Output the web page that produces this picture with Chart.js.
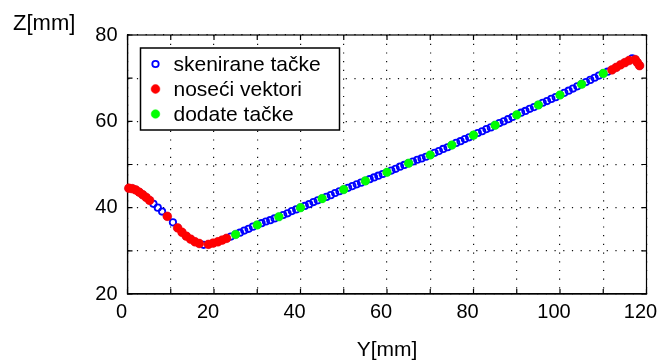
<!DOCTYPE html>
<html>
<head>
<meta charset="utf-8">
<script src="https://cdn.jsdelivr.net/npm/chart.js@4/dist/chart.umd.min.js"></script>
<style>
  html, body { margin: 0; padding: 0; background: #fff; }
  #wrap { width: 659px; height: 361px; }
</style>
</head>
<body>
<div id="wrap"><canvas id="profil" width="659" height="361"></canvas></div>
<script>
// ---- data ----
const scanY = [0.3, 1.1, 1.9, 2.7, 3.5, 4.3, 5.1, 6.0, 7.0, 8.0, 9.2, 10.5, 11.6, 12.6, 13.6, 14.6, 15.6, 16.6, 17.6, 18.7, 19.8, 20.9, 21.9, 22.9, 23.9,
  25, 26, 27, 28, 29, 30, 31, 32, 33, 34, 35, 36, 37, 38, 39, 40, 41, 42, 43, 44, 45, 46, 47, 48, 49, 50,
  51, 52, 53, 54, 55, 56, 57, 58, 59, 60, 61, 62, 63, 64, 65, 66, 67, 68, 69, 70, 71, 72, 73, 74, 75,
  76, 77, 78, 79, 80, 81, 82, 83, 84, 85, 86, 87, 88, 89, 90, 91, 92, 93, 94, 95, 96, 97, 98, 99, 100,
  101, 102, 103, 104, 105, 106, 107, 108, 109, 110, 111, 112, 113, 114, 115, 116, 116.7, 117.4, 117.9, 118.4];
const scanZ = [44.5, 44.4, 44.1, 43.6, 43.0, 42.4, 41.7, 40.9, 40.0, 39.1, 38.0, 36.6, 35.3, 34.3, 33.4, 32.7, 32.1, 31.7, 31.4, 31.5, 31.8, 32.1, 32.5, 32.9, 33.3,
  33.8, 34.2, 34.7, 35.1, 35.6, 36.0, 36.4, 36.8, 37.1, 37.5, 37.9, 38.3, 38.7, 39.2, 39.6, 40.0, 40.4, 40.8, 41.3, 41.7, 42.1, 42.5, 42.9, 43.4, 43.8, 44.2,
  44.6, 45.0, 45.4, 45.8, 46.2, 46.6, 47.0, 47.4, 47.8, 48.2, 48.6, 49.0, 49.5, 49.9, 50.3, 50.7, 51.1, 51.4, 51.8, 52.2, 52.7, 53.1, 53.6, 54.0, 54.5,
  55.0, 55.4, 55.9, 56.3, 56.8, 57.3, 57.7, 58.2, 58.6, 59.1, 59.6, 60.0, 60.5, 61.0, 61.5, 62.0, 62.4, 62.9, 63.3, 63.8, 64.3, 64.7, 65.2, 65.6, 66.1,
  66.6, 67.1, 67.6, 68.1, 68.6, 69.1, 69.6, 70.1, 70.6, 71.1, 71.5, 71.9, 72.5, 73.1, 73.6, 74.1, 74.6, 74.3, 73.6, 72.9];

const nosY = [0.3, 1.1, 1.9, 2.7, 3.5, 4.3, 5.1, 9.2, 11.6, 12.6, 13.6, 14.6, 15.6, 16.6, 18.7, 19.8, 20.9, 21.9, 22.9,
  112, 113, 114, 115, 116, 117.4, 117.9, 118.4];
const nosZ = [44.5, 44.4, 44.1, 43.6, 43.0, 42.4, 41.7, 38.0, 35.3, 34.3, 33.4, 32.7, 32.1, 31.7, 31.5, 31.8, 32.1, 32.5, 32.9,
  71.9, 72.5, 73.1, 73.6, 74.1, 74.3, 73.6, 72.9];

const dodY = [25, 30, 35, 40, 45, 50, 55, 60, 65, 70, 75, 80, 85, 90, 95, 100, 105, 110];
const dodZ = [33.8, 36.0, 37.9, 40.0, 42.1, 44.2, 46.2, 48.2, 50.3, 52.2, 54.5, 56.8, 59.1, 61.5, 63.8, 66.1, 68.6, 71.1];

const xTicks = [0, 20, 40, 60, 80, 100, 120];
const yTicks = [20, 40, 60, 80];

const FONT = "'Liberation Sans', Arial, sans-serif";
const pts = (xs, ys) => xs.map((x, i) => ({ x: x, y: ys[i] }));

// box round the plot + small inward ticks (matlab style)
const okvir = {
  id: "okvir",
  beforeDatasetsDraw(chart) {
    const { ctx, chartArea: a, scales } = chart;
    ctx.save();
    ctx.strokeStyle = "#000";
    ctx.lineWidth = 1.2;
    ctx.strokeRect(a.left, a.top, a.right - a.left, a.bottom - a.top);
    ctx.beginPath();
    scales.x.ticks.forEach(t => {
      const px = scales.x.getPixelForValue(t.value);
      ctx.moveTo(px, a.bottom); ctx.lineTo(px, a.bottom - 5);
      ctx.moveTo(px, a.top); ctx.lineTo(px, a.top + 5);
    });
    scales.y.ticks.forEach(t => {
      const py = scales.y.getPixelForValue(t.value);
      ctx.moveTo(a.left, py); ctx.lineTo(a.left + 5, py);
      ctx.moveTo(a.right, py); ctx.lineTo(a.right - 5, py);
    });
    ctx.stroke();
    ctx.restore();
  }
};

// legend inside the plot, top-left
const legenda = {
  id: "legenda",
  afterDraw(chart) {
    const { ctx, chartArea: a } = chart;
    const x0 = a.left + 13, y0 = a.top + 13, w = 199, h = 82;
    ctx.save();
    ctx.fillStyle = "#fff";
    ctx.fillRect(x0, y0, w, h);
    ctx.strokeStyle = "#000";
    ctx.lineWidth = 1.5;
    ctx.strokeRect(x0, y0, w, h);
    ctx.font = "21px " + FONT;
    ctx.textBaseline = "middle";
    chart.data.datasets.forEach((ds, i) => {
      const cy = y0 + 16 + i * 25;
      ctx.beginPath();
      ctx.arc(x0 + 15, cy, ds.pointRadius, 0, Math.PI * 2);
      if (ds.pointBackgroundColor !== "rgba(0,0,0,0)") {
        ctx.fillStyle = ds.pointBackgroundColor;
        ctx.fill();
      }
      ctx.lineWidth = ds.pointBorderWidth;
      ctx.strokeStyle = ds.pointBorderColor;
      ctx.stroke();
      ctx.fillStyle = "#000";
      ctx.fillText(ds.label, x0 + 33, cy + 1);
    });
    ctx.restore();
  }
};

new Chart(document.getElementById("profil").getContext("2d"), {
  type: "scatter",
  data: {
    datasets: [
      {
        label: "skenirane tačke",
        data: pts(scanY, scanZ),
        pointRadius: 3.2,
        pointBorderWidth: 1.8,
        pointBorderColor: "#0000ff",
        pointBackgroundColor: "rgba(0,0,0,0)",
        clip: false,
        order: 2
      },
      {
        label: "noseći vektori",
        data: pts(nosY, nosZ),
        pointRadius: 4.4,
        pointBorderWidth: 0.5,
        pointBorderColor: "#ff0000",
        pointBackgroundColor: "#ff0000",
        clip: false,
        order: 1
      },
      {
        label: "dodate tačke",
        data: pts(dodY, dodZ),
        pointRadius: 4.3,
        pointBorderWidth: 0.5,
        pointBorderColor: "#00ff00",
        pointBackgroundColor: "#00ff00",
        clip: false,
        order: 1
      }
    ]
  },
  options: {
    responsive: false,
    animation: false,
    events: [],
    layout: { padding: { left: 13, right: 12.5, top: 0, bottom: 0 } },
    plugins: {
      legend: { display: false },
      tooltip: { enabled: false },
      title: {
        display: true,
        text: "Z[mm]",
        align: "start",
        color: "#000",
        font: { family: FONT, size: 22, weight: "normal", lineHeight: 1 },
        padding: { top: 12.5, bottom: 0.5 }
      }
    },
    scales: {
      x: {
        type: "linear",
        min: 0, max: 120,
        afterFit: s => { s.height = 67; s.paddingLeft = 0; s.paddingRight = 0; },
        ticks: {
          stepSize: 10,
          autoSkip: false,
          maxRotation: 0,
          padding: 6,
          labelOffset: -6,
          color: "#000",
          font: { family: FONT, size: 20 },
          callback: v => xTicks.includes(v) ? String(v) : ""
        },
        grid: { color: "#111", lineWidth: 1.2, drawTicks: false },
        border: { display: true, color: "#000", width: 1.2, dash: [1.2, 7.5] },
        title: {
          display: true,
          text: "Y[mm]",
          color: "#000",
          font: { family: FONT, size: 21, lineHeight: 1 },
          padding: { top: 0, bottom: 0 }
        }
      },
      y: {
        type: "linear",
        min: 20, max: 80,
        afterFit: s => { s.width = 114.5; s.paddingTop = 0; s.paddingBottom = 0; },
        ticks: {
          stepSize: 10,
          autoSkip: false,
          padding: 10,
          color: "#000",
          font: { family: FONT, size: 20 },
          callback: v => yTicks.includes(v) ? String(v) : ""
        },
        grid: { color: "#111", lineWidth: 1.2, drawTicks: false },
        border: { display: true, color: "#000", width: 1.2, dash: [1.2, 7.5] }
      }
    }
  },
  plugins: [okvir, legenda]
});
</script>
</body>
</html>
